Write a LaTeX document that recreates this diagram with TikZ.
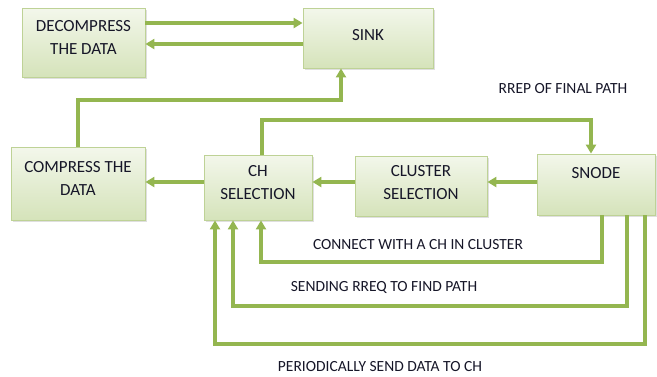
\documentclass[tikz,border=0pt]{standalone}
\usepackage{fontspec}
\setmainfont{Carlito}
\usepackage{tikz}
\usetikzlibrary{arrows.meta, calc, positioning, shadows}
\usepackage{xcolor}
\definecolor{linegreen}{RGB}{148,182,80}
\definecolor{boxtop}{RGB}{243,247,235}
\definecolor{boxbottom}{RGB}{213,227,186}
\definecolor{boxedge}{RGB}{190,210,150}
\definecolor{inkdark}{RGB}{22,22,40}

\begin{document}
\begin{tikzpicture}[x=1pt, y=-1pt,
    box/.style={draw=boxedge, line width=0.8pt, top color=boxtop, bottom color=boxbottom,
        drop shadow={shadow xshift=2pt, shadow yshift=-2pt, opacity=0.25},
        align=center, text=inkdark, font=\fontsize{17}{23}\selectfont, inner sep=2pt,
        text depth=10pt},
    link/.style={draw=linegreen, line width=3.2pt, -{Triangle[length=9pt, width=10pt]}},
    lbl/.style={text=inkdark, font=\fontsize{15.5}{18}\selectfont}]
    \useasboundingbox (0,0) rectangle (657,376);

    % boxes
    \node[box, minimum width=123pt, minimum height=69pt] (decomp) at (83.5, 42.5) {DECOMPRESS\\THE DATA};
    \node[box, minimum width=130pt, minimum height=60pt, text depth=6pt] (sink) at (368, 38) {SINK};
    \node[box, minimum width=134pt, minimum height=73pt, text depth=11pt] (compress) at (78, 183.5) {COMPRESS THE\\DATA};
    \node[box, minimum width=108pt, minimum height=65pt] (chsel) at (258, 187.5) {CH\\SELECTION};
    \node[box, minimum width=132pt, minimum height=60pt, text depth=8pt] (clustersel) at (421, 186) {CLUSTER\\SELECTION};
    \node[box, minimum width=118pt, minimum height=61pt, text depth=24pt] (snode) at (596, 184.5) {SNODE};

    % sink <-> decompress
    \draw[link] ([yshift=19.5pt]decomp.east) coordinate (d1) -- (d1 -| sink.west);
    \draw[link] ([yshift=-6pt]sink.west) coordinate (s1) -- (s1 -| decomp.east);

    % compress -> sink
    \coordinate (up1) at (200, 100);
    \draw[link] (compress.north) |- (up1) -| ([xshift=-27pt]sink.south);

    % rrep of final path
    \coordinate (rrep) at (400, 120);
    \draw[link] ([xshift=4pt]chsel.north) |- (rrep) -| ([xshift=-5pt]snode.north);
    \node[lbl] (rreplbl) at (563, 89) {RREP OF FINAL PATH};

    % main chain
    \draw[link] (snode.west |- 0,182) -- (clustersel.east |- 0,182);
    \draw[link] (clustersel.west |- 0,182) -- (chsel.east |- 0,182);
    \draw[link] (chsel.west |- 0,182) -- (compress.east |- 0,182);

    % snode -> ch selection, three lanes
    \foreach \sx/\cx/\ly in {6/3/262, 31/-25/306, 49/-43/344} {
        \coordinate (sa) at ([xshift=\sx pt]snode.south);
        \coordinate (cb) at ([xshift=\cx pt]chsel.south);
        \draw[link] (sa) -- (sa |- 0,\ly) -| (cb);
    }
    \node[lbl] (connlbl) at (418, 245) {CONNECT WITH A CH IN CLUSTER};
    \node[lbl] (rreqlbl) at (384, 287) {SENDING RREQ TO FIND PATH};
    \node[lbl] (datalbl) at (380, 367) {PERIODICALLY SEND DATA TO CH};
\end{tikzpicture}
\end{document}
